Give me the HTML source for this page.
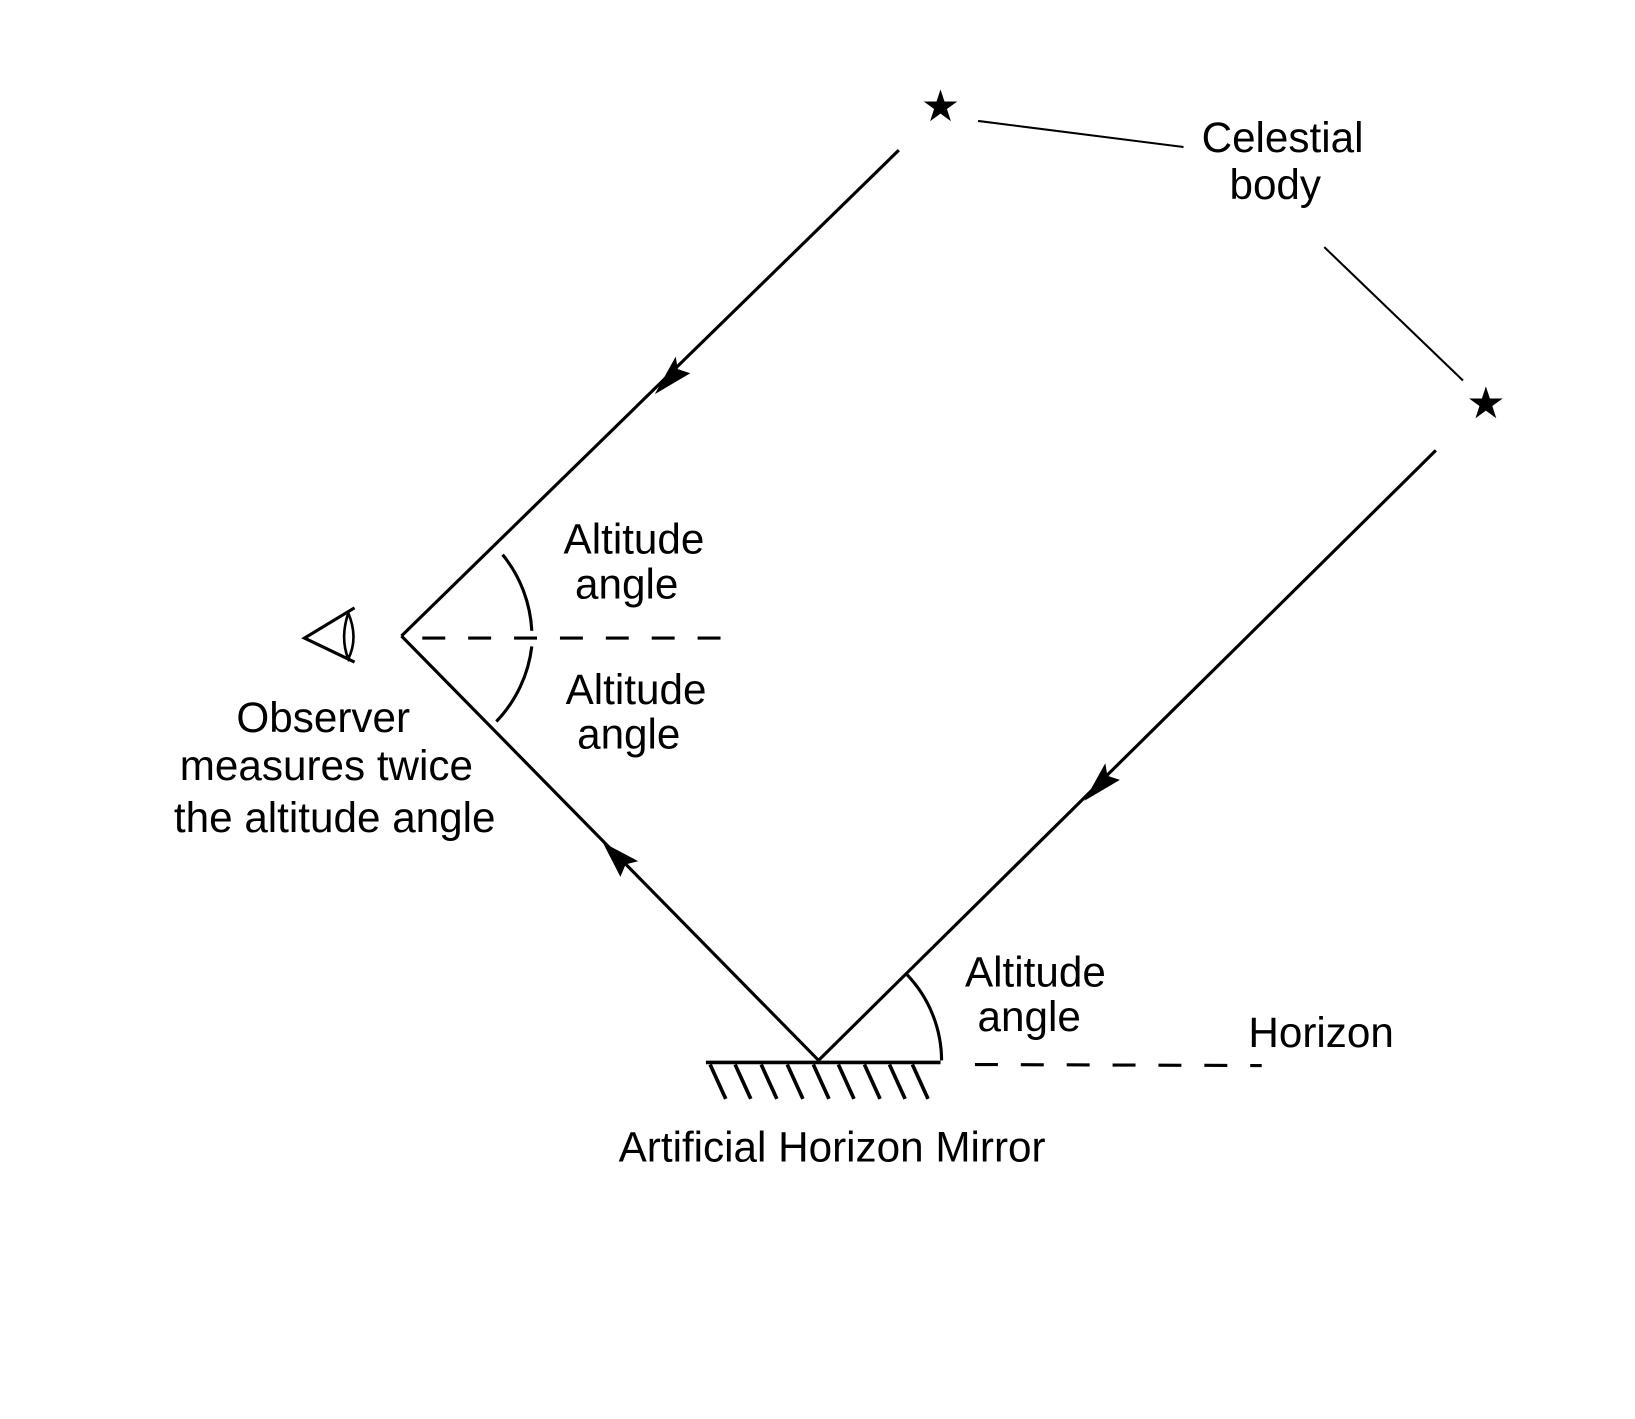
<!DOCTYPE html>
<html><head><style>html,body{margin:0;padding:0;background:#fff}svg{display:block}</style></head>
<body>
<svg width="1635" height="1419" viewBox="0 0 1568 1361" preserveAspectRatio="none" xmlns="http://www.w3.org/2000/svg">
<g fill="none" stroke="#000" stroke-width="3">
<line x1="938" y1="116" x2="1135" y2="141" stroke-width="2"/>
<line x1="1270" y1="237" x2="1403" y2="365" stroke-width="2"/>
<line x1="862" y1="144" x2="385" y2="610"/>
<line x1="385" y1="610" x2="785" y2="1017"/>
<line x1="1377" y1="432" x2="785" y2="1017"/>
<line x1="405" y1="612" x2="705" y2="612" stroke-dasharray="22,22"/>
<line x1="935" y1="1021" x2="1210" y2="1022" stroke-dasharray="22,22"/>
<path d="M482 532 A125 125 0 0 1 510 605"/>
<path d="M510 620 A125 125 0 0 1 476 692"/>
<path d="M870 935 A120 120 0 0 1 903 1017"/>
<line x1="677" y1="1019" x2="902" y2="1019" stroke-width="3.5"/>
<g stroke-width="3.5">
<line x1="681" y1="1021" x2="696" y2="1054"/>
<line x1="705" y1="1021" x2="720" y2="1054"/>
<line x1="730" y1="1021" x2="745" y2="1054"/>
<line x1="755" y1="1021" x2="770" y2="1054"/>
<line x1="780" y1="1021" x2="795" y2="1054"/>
<line x1="804" y1="1021" x2="819" y2="1054"/>
<line x1="829" y1="1021" x2="844" y2="1054"/>
<line x1="853" y1="1021" x2="868" y2="1054"/>
<line x1="875" y1="1021" x2="890" y2="1054"/>
</g>
<path d="M340 583 L292 612 L340 635"/>
<path d="M334 588 Q344 612 334 632 Q326 612 334 588" stroke-width="2.5"/>
</g>
<g fill="#000">
<polygon points="628,378 662,358 650,354 648,342"/>
<polygon points="578,808 612,826 600,829 595,841"/>
<polygon points="1040,768 1074,748 1062,744 1060,732"/>
<text x="902" y="116" font-size="42" text-anchor="middle" font-family="DejaVu Sans, sans-serif">★</text>
<text x="1425" y="401" font-size="42" text-anchor="middle" font-family="DejaVu Sans, sans-serif">★</text>
</g>
<g font-family="Liberation Sans, Arial, sans-serif" font-size="40.5" fill="#000" text-anchor="middle">
<text x="1230" y="146">Celestial</text>
<text x="1223" y="191">body</text>
<text x="608" y="531">Altitude</text>
<text x="601" y="574">angle</text>
<text x="610" y="675">Altitude</text>
<text x="603" y="718">angle</text>
<text x="993" y="946">Altitude</text>
<text x="987" y="989">angle</text>
<text x="1267" y="1004">Horizon</text>
<text x="310" y="702">Observer</text>
<text x="313" y="748">measures twice</text>
<text x="321" y="798">the altitude angle</text>
<text x="798" y="1114">Artificial Horizon Mirror</text>
</g>
</svg>
</body></html>
